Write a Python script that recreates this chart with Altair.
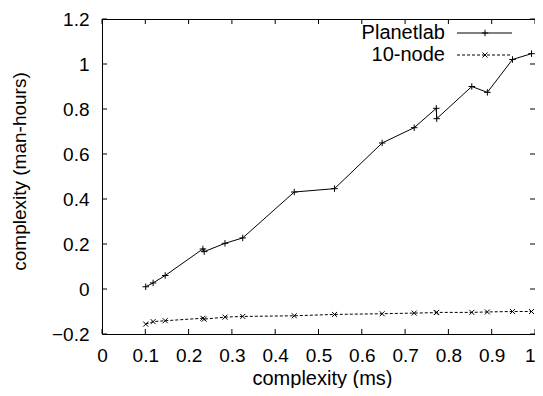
import altair as alt
import pandas as pd

x_vals = [0.101, 0.118, 0.146, 0.233, 0.236, 0.284, 0.325, 0.444, 0.537,
          0.647, 0.721, 0.772, 0.773, 0.854, 0.890, 0.948, 0.992]
planetlab = [0.010, 0.027, 0.060, 0.178, 0.166, 0.203, 0.227, 0.431, 0.446,
             0.649, 0.717, 0.803, 0.757, 0.900, 0.874, 1.020, 1.046]
tennode = [-0.156, -0.145, -0.141, -0.130, -0.134, -0.125, -0.122, -0.119, -0.113,
           -0.110, -0.107, -0.105, -0.104, -0.104, -0.102, -0.100, -0.100]
series_names = ["Planetlab", "10-node"]
x_ticks = [0, 0.1, 0.2, 0.3, 0.4, 0.5, 0.6, 0.7, 0.8, 0.9, 1]
y_ticks = [-0.2, 0, 0.2, 0.4, 0.6, 0.8, 1, 1.2]

W, H = 433, 315
FONT = "Liberation Sans"
FS = 19
PLUS = "M-1,0H1M0,-1V1"
CROSS = "M-1,-1L1,1M-1,1L1,-1"

rows = []
for i, (xv, a, b) in enumerate(zip(x_vals, planetlab, tennode)):
    rows.append({"x": xv, "y": a, "series": series_names[0], "o": i})
    rows.append({"x": xv, "y": b, "series": series_names[1], "o": i})
df = pd.DataFrame(rows)

xs = alt.Scale(domain=[0, 1], nice=False, zero=False)
ys = alt.Scale(domain=[-0.2, 1.2], nice=False, zero=False)

xaxis = alt.Axis(values=x_ticks, ticks=False, tickSize=0, grid=False, domain=False,
                 labelFont=FONT, labelFontSize=FS, labelColor="black", labelPadding=12,
                 labelFlush=False, labelOverlap=False,
                 labelAlign={"condition": {"test": "datum.value >= 1", "value": "right"}, "value": "center"},
                 title="complexity (ms)", titleFont=FONT, titleFontSize=20,
                 titleFontWeight="normal", titleColor="black", titlePadding=3,
                 titleX=220,
                 labelExpr="format(datum.value, '~g')")
yaxis = alt.Axis(values=y_ticks, ticks=False, tickSize=0, grid=False, domain=False,
                 labelFont=FONT, labelFontSize=FS, labelColor="black", labelPadding=13,
                 labelFlush=False, labelOverlap=False,
                 title="complexity (man-hours)", titleFont=FONT, titleFontSize=FS,
                 titleFontWeight="normal", titleColor="black", titlePadding=22,
                 titleY=152,
                 labelExpr="format(datum.value, '~g')")

base = alt.Chart(df)
pl = base.transform_filter(alt.datum.series == series_names[0])
tn = base.transform_filter(alt.datum.series == series_names[1])

pl_line = pl.mark_line(color="black", strokeWidth=1).encode(
    x=alt.X("x:Q", scale=xs, axis=xaxis), y=alt.Y("y:Q", scale=ys, axis=yaxis), order="o:Q")
pl_pts = pl.mark_point(shape=PLUS, size=42, filled=False, color="black", strokeWidth=1, opacity=1).encode(
    x=alt.X("x:Q", scale=xs), y=alt.Y("y:Q", scale=ys))
tn_line = tn.mark_line(color="black", strokeWidth=1, strokeDash=[3, 2]).encode(
    x=alt.X("x:Q", scale=xs), y=alt.Y("y:Q", scale=ys), order="o:Q")
tn_pts = tn.mark_point(shape=CROSS, size=25, filled=False, color="black", strokeWidth=1, opacity=1).encode(
    x=alt.X("x:Q", scale=xs), y=alt.Y("y:Q", scale=ys))

xt = alt.Chart(pd.DataFrame({"t": x_ticks}))
yt = alt.Chart(pd.DataFrame({"t": y_ticks}))
tick_bot = xt.mark_rule(color="black", strokeWidth=1).encode(
    x=alt.X("t:Q", scale=xs), y=alt.value(H), y2=alt.value(H - 5))
tick_top = xt.mark_rule(color="black", strokeWidth=1).encode(
    x=alt.X("t:Q", scale=xs), y=alt.value(0), y2=alt.value(5))
tick_left = yt.mark_rule(color="black", strokeWidth=1).encode(
    y=alt.Y("t:Q", scale=ys), x=alt.value(0), x2=alt.value(5))
tick_right = yt.mark_rule(color="black", strokeWidth=1).encode(
    y=alt.Y("t:Q", scale=ys), x=alt.value(W), x2=alt.value(W - 5))

leg = alt.Chart(pd.DataFrame({"name": series_names, "row": [0, 1]}))
LX_TEXT, LX0, LX1, LXM = 343, 355, 410, 383
ROW_Y = [14, 36]
legend_layers = []
for i, nm in enumerate(series_names):
    src = leg.transform_filter(alt.datum.row == i)
    legend_layers.append(src.mark_text(align="right", baseline="middle", font=FONT,
                                       fontSize=20, color="black").encode(
        text="name:N", x=alt.value(LX_TEXT), y=alt.value(ROW_Y[i])))
    rule_kw = dict(color="black", strokeWidth=1)
    if i == 1:
        rule_kw["strokeDash"] = [3, 2]
    legend_layers.append(src.mark_rule(**rule_kw).encode(
        x=alt.value(LX0), x2=alt.value(LX1), y=alt.value(ROW_Y[i])))
    legend_layers.append(src.mark_point(shape=PLUS if i == 0 else CROSS, size=42 if i == 0 else 25,
                                        filled=False, color="black", strokeWidth=1, opacity=1).encode(
        x=alt.value(LXM), y=alt.value(ROW_Y[i])))

chart = alt.layer(pl_line, pl_pts, tn_line, tn_pts, tick_bot, tick_top, tick_left, tick_right,
                  *legend_layers).properties(
    width=W, height=H,
    autosize=alt.AutoSizeParams(type="none"),
    padding={"left": 94, "top": 11, "right": 0, "bottom": 54},
).configure(background="white").configure_view(stroke="black", strokeWidth=1)

chart.save("out.html", embed_options={"renderer": "svg", "actions": False})
